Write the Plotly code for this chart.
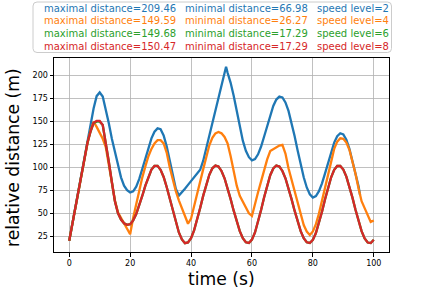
import plotly.graph_objects as go

# ---------------- data ----------------
time_s = list(range(0, 101))
blue_time = [*range(0, 52), 51.5, *range(52, 96), 95.5]

dist_speed2 = [
    20, 38, 56, 74, 92, 110, 127, 145, 164, 177.5,
    181.5, 177, 164, 148, 131, 116, 101, 89, 80, 75,
    72.5, 73.8, 78.9, 87.3, 98.2, 110.0, 121.6, 131.5, 138.8, 142.4,
    141.5, 134.7, 122.8, 107.5, 91.3, 76.5, 69.2, 72.5, 76.7, 80.8,
    85.0, 89.1, 93.2, 97.3, 107.2, 120.8, 134.4, 148.0, 161.6, 175.2,
    188.8, 202.4,
    209.46,
    203, 192, 178, 161, 144, 129, 118, 111,
    107.6, 108.9, 114.1, 122.6, 133.5, 145.4, 157.0, 166.8, 173.8, 177.0,
    176.1, 170.7, 161.4, 148.9, 134.1, 118.3, 103.0, 89.1, 78.0, 70.6,
    66.98, 68.7, 73.9, 82.5, 93.4, 105.4, 117.0, 126.9, 133.8, 137.1,
    135.8, 130.0, 120.1, 107.3, 93.1, 79.3,
    69.6,
]

dist_speed4 = [
    20, 38, 56, 74, 92, 110, 126, 140, 149.59, 144,
    138, 131, 122, 103, 83, 64, 51, 45, 39, 33,
    27.0, 45, 61, 75, 89, 101, 112, 120, 126, 129.5,
    129.6, 126, 116, 100, 86, 74, 64, 56, 46, 38.5,
    44, 58, 73, 86, 98, 111, 124, 132, 137, 138.4,
    137, 133, 126, 112, 96, 80, 69, 62.8, 56.3, 49.8,
    47, 60.8, 72.7, 84.7, 96.7, 108.6, 117.6, 119.6, 121.6, 123.6,
    124.5, 115, 99, 86, 73, 61, 48, 37, 30, 26.27,
    30.1, 38.0, 49.5, 63.6, 79.0, 94.4, 108.5, 120.0, 127.9, 131.6,
    131, 127, 119, 107, 93, 77, 63, 55.5, 48, 40.5,
    42,
]

dist_speed6 = [
    20, 38, 56, 74, 92, 110, 127, 139, 148, 149.68,
    149.68, 146, 128, 106, 84, 63, 50, 43, 39, 37.3,
    38, 42, 49, 58, 69, 80, 90, 97.5, 101.5, 101.5,
    97.3, 89.4, 78.5, 65.7, 52.3, 39.7, 29.0, 21.4, 17.29, 18.1,
    22.8, 31.2, 42.5, 55.6, 69.1, 81.6, 91.8, 98.9, 101.9, 100.8,
    96.0, 88.0, 77.4, 65.3, 52.7, 40.7, 30.4, 22.7, 18.3, 17.5,
    21.2, 29.0, 40.1, 53.4, 67.3, 80.4, 91.3, 98.7, 101.9, 100.8,
    96.0, 88.0, 77.4, 65.3, 52.7, 40.7, 30.4, 22.7, 18.3, 17.5,
    20.9, 28.3, 38.9, 51.6, 65.1, 78.0, 89.1, 97.2, 101.4, 101.5,
    97.5, 89.8, 79.3, 66.9, 53.7, 41.2, 30.4, 22.4, 18.0, 17.5,
    21,
]

dist_speed8 = [
    20, 38, 56, 74, 92, 110, 127, 139, 148.5, 150.47,
    150.47, 146, 128, 106, 84, 63, 50, 43, 39, 37.3,
    38, 42, 49, 58, 69, 80, 90, 97.5, 101.5, 101.5,
    97.3, 89.4, 78.5, 65.7, 52.3, 39.7, 29.0, 21.4, 17.29, 18.1,
    22.8, 31.2, 42.5, 55.6, 69.1, 81.6, 91.8, 98.9, 101.9, 100.8,
    96.0, 88.0, 77.4, 65.3, 52.7, 40.7, 30.4, 22.7, 18.3, 17.5,
    21.2, 29.0, 40.1, 53.4, 67.3, 80.4, 91.3, 98.7, 101.9, 100.8,
    96.0, 88.0, 77.4, 65.3, 52.7, 40.7, 30.4, 22.7, 18.3, 17.5,
    20.9, 28.3, 38.9, 51.6, 65.1, 78.0, 89.1, 97.2, 101.4, 101.5,
    97.5, 89.8, 79.3, 66.9, 53.7, 41.2, 30.4, 22.4, 18.0, 17.5,
    21,
]

speed_levels = [2, 4, 6, 8]
max_distance = [209.46, 149.59, 149.68, 150.47]
min_distance = [66.98, 26.27, 17.29, 17.29]
x_ticks = [0, 20, 40, 60, 80, 100]
y_ticks = [25, 50, 75, 100, 125, 150, 175, 200]

# ---------------- figure ----------------
W, H = 432, 288
ML, MR, MT, MB = 54, 43, 58, 36
PW, PH = W - ML - MR, H - MT - MB

colors = ["#1f77b4", "#ff7f0e", "#2ca02c", "#d62728"]
series = [
    (blue_time, dist_speed2),
    (time_s, dist_speed4),
    (time_s, dist_speed6),
    (time_s, dist_speed8),
]

def px_x(px):
    return (px - ML) / PW

def px_y(py):
    return (H - MB - py) / PH

fig = go.Figure()
for (tx, vals), col, lvl in zip(series, colors, speed_levels):
    fig.add_trace(go.Scatter(
        x=tx, y=vals, mode="lines",
        line=dict(color=col, width=2.3),
        name=f"speed level={lvl}", showlegend=False,
        hoverinfo="skip",
    ))

all_vals = [v for _, vals in series for v in vals]
all_t = [t for tx, _ in series for t in tx]
ypad = 0.05 * (max(all_vals) - min(all_vals))
xpad = 0.05 * (max(all_t) - min(all_t))

axis_common = dict(
    showline=True, linecolor="black", linewidth=1, mirror=True,
    ticks="outside", ticklen=3.5, tickwidth=1, tickcolor="black",
    showgrid=True, gridcolor="#b0b0b0", gridwidth=0.8,
    zeroline=False,
    tickfont=dict(family="DejaVu Sans", size=8, color="black"),
)

fig.update_layout(
    width=W, height=H,
    margin=dict(l=ML, r=MR, t=MT, b=MB, pad=0),
    paper_bgcolor="white", plot_bgcolor="white",
    showlegend=False,
    xaxis=dict(range=[min(all_t) - xpad, max(all_t) + xpad],
               tickvals=x_ticks, **axis_common),
    yaxis=dict(range=[min(all_vals) - ypad, max(all_vals) + ypad],
               tickvals=y_ticks, **axis_common),
    font=dict(family="DejaVu Sans"),
)

# axis titles
fig.add_annotation(text="time (s)", xref="paper", yref="paper",
                   x=px_x(221), y=px_y(279.3), xanchor="center", yanchor="middle",
                   showarrow=False, font=dict(size=17.2, color="black"))
fig.add_annotation(text="relative distance (m)", xref="paper", yref="paper",
                   x=px_x(12.5), y=px_y(157.5), xanchor="center", yanchor="middle",
                   textangle=-90, showarrow=False,
                   font=dict(size=17.2, color="black"))

# legend-like box with rounded corners
bx0, bx1, by0, by1 = 33, 391.5, 2, 52.5
r = 4
X0, X1 = px_x(bx0), px_x(bx1)
Y0, Y1 = px_y(by1), px_y(by0)
rx, ry = r / PW, r / PH
path = (f"M {X0+rx},{Y0} L {X1-rx},{Y0} Q {X1},{Y0} {X1},{Y0+ry} "
        f"L {X1},{Y1-ry} Q {X1},{Y1} {X1-rx},{Y1} "
        f"L {X0+rx},{Y1} Q {X0},{Y1} {X0},{Y1-ry} "
        f"L {X0},{Y0+ry} Q {X0},{Y0} {X0+rx},{Y0} Z")
fig.add_shape(type="path", path=path, xref="paper", yref="paper",
              line=dict(color="#cccccc", width=1), fillcolor="rgba(255,255,255,0.8)")

col_x = [41.5, 182.5, 315]
row_y = [8, 20.7, 33.3, 46]
for i, (col, lvl, mx, mn) in enumerate(zip(colors, speed_levels, max_distance, min_distance)):
    texts = [f"maximal distance={mx:.2f}",
             f"minimal distance={mn:.2f}",
             f"speed level={lvl}"]
    for cx, txt in zip(col_x, texts):
        fig.add_annotation(text=txt, xref="paper", yref="paper",
                           x=px_x(cx), y=px_y(row_y[i]),
                           xanchor="left", yanchor="middle", showarrow=False,
                           font=dict(family="DejaVu Sans", size=10, color=col))

fig.write_html("out.html",
               config={"displayModeBar": False, "staticPlot": True},
               post_script="document.body.style.margin='0';document.body.style.overflow='hidden';")
